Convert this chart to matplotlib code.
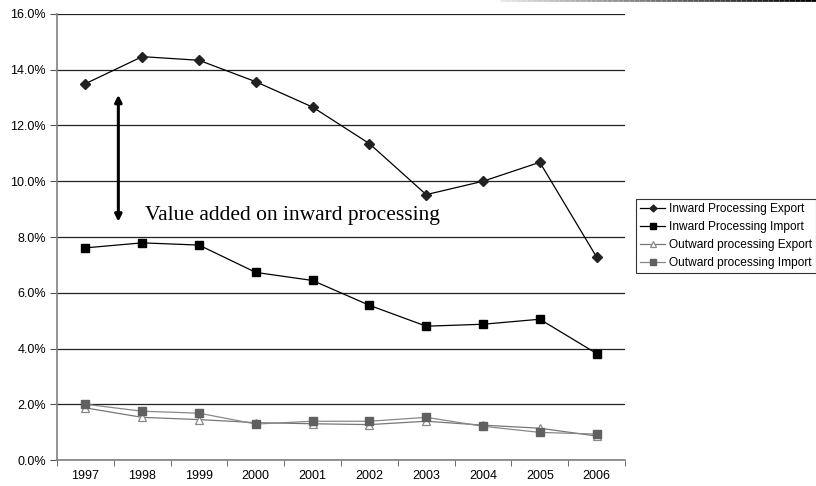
import numpy as np
import matplotlib
matplotlib.use('Agg')
import matplotlib.pyplot as plt
from matplotlib.ticker import FuncFormatter
from matplotlib.collections import LineCollection

years = ['1997', '1998', '1999', '2000', '2001', '2002', '2003', '2004', '2005', '2006']
inward_export = [13.50, 14.47, 14.34, 13.57, 12.66, 11.35, 9.52, 10.00, 10.68, 7.28]
inward_import = [7.61, 7.79, 7.71, 6.73, 6.44, 5.55, 4.80, 4.87, 5.05, 3.82]
outward_export = [1.87, 1.53, 1.45, 1.34, 1.30, 1.27, 1.39, 1.25, 1.14, 0.86]
outward_import = [2.00, 1.75, 1.68, 1.29, 1.39, 1.39, 1.53, 1.21, 0.99, 0.93]

plt.rcParams['font.family'] = ['Liberation Sans', 'DejaVu Sans']

fig = plt.figure(figsize=(8.16, 4.86), dpi=100)
ax = fig.add_axes([57 / 816, 1 - 460 / 486, (625 - 57) / 816, (460 - 14) / 486])

x = np.arange(len(years))
ax.plot(x, inward_export, color='black', lw=0.9, marker='D', ms=5,
        mfc='#222222', mec='#222222', label='Inward Processing Export', zorder=4)
ax.plot(x, inward_import, color='black', lw=0.9, marker='s', ms=6,
        mfc='black', mec='black', label='Inward Processing Import', zorder=4)
ax.plot(x, outward_export, color='#777777', lw=0.9, marker='^', ms=6,
        mfc='white', mec='#888888', mew=0.9, label='Outward processing Export', zorder=4)
ax.plot(x, outward_import, color='#888888', lw=0.9, marker='s', ms=6,
        mfc='#606060', mec='#606060', label='Outward processing Import', zorder=4)

ax.set_xlim(-0.5, len(years) - 0.5)
ax.set_ylim(0, 16)
ax.set_yticks(np.arange(0, 16.1, 2))
ax.yaxis.set_major_formatter(FuncFormatter(lambda v, p: f'{v:.1f}%'))
ax.set_xticks(x)
ax.set_xticklabels(years)
ax.set_xticks(np.arange(-0.5, len(years)), minor=True)
ax.tick_params(axis='x', which='major', length=0, labelsize=9, pad=7)
ax.tick_params(axis='x', which='minor', length=4, color='#555555', direction='out')
ax.tick_params(axis='y', length=5, color='#555555', labelsize=9, pad=3)

ax.grid(axis='y', color='#222222', lw=0.9)
ax.set_axisbelow(True)
for s in ['top', 'right']:
    ax.spines[s].set_visible(False)
for s in ['left', 'bottom']:
    ax.spines[s].set_color('#808080')
    ax.spines[s].set_linewidth(1.2)

# double-headed arrow between the inward series
ax.annotate('', xy=(0.58, 8.55), xytext=(0.58, 13.1),
            arrowprops=dict(arrowstyle='<|-|>', color='black', lw=2.2,
                            mutation_scale=10, shrinkA=0, shrinkB=0))
ax.text(1.05, 8.61, 'Value added on inward processing', family='Liberation Serif',
        fontsize=15.5, va='baseline', ha='left')

leg = fig.legend(loc='upper left', bbox_to_anchor=(636 / 816, 1 - 199 / 486),
                 fontsize=8.6, frameon=True, fancybox=False, borderpad=0.35,
                 handlelength=2.1, handletextpad=0.3, labelspacing=0.5,
                 markerscale=0.7, borderaxespad=0)
leg.get_frame().set_edgecolor('black')
leg.get_frame().set_linewidth(0.8)

# thin shaded stroke along the top edge
xs = np.linspace(500 / 816, 1, 60)
segs = [[(xs[i], 0.999), (xs[i + 1], 0.999)] for i in range(len(xs) - 1)]
shade = [str(max(0.0, 0.9 - 0.9 * i / (len(xs) - 2))) for i in range(len(xs) - 1)]
fig.add_artist(LineCollection(segs, colors=shade, lw=2, transform=fig.transFigure))

fig.savefig('out.png', dpi=100)
